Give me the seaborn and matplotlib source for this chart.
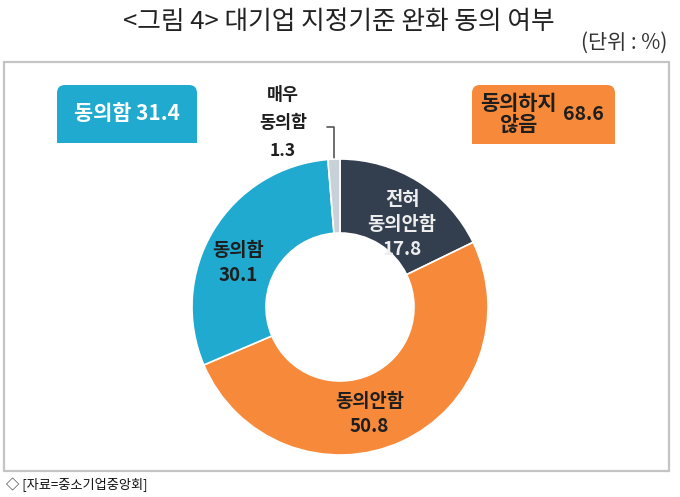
import numpy as np
import matplotlib
matplotlib.use("Agg")
import matplotlib.pyplot as plt
import seaborn as sns
from matplotlib.patches import FancyBboxPatch, Rectangle

sns.set_theme(style="white")
plt.rcParams['font.family'] = ['Noto Sans CJK KR', 'DejaVu Sans']

# data
labels = ["전혀\n동의안함", "동의안함", "동의함", "매우\n동의함"]
values = [17.8, 50.8, 30.1, 1.3]
colors = ["#333F4E", "#F68A3A", "#21AACF", "#C8D0D8"]
agree_total = 31.4
disagree_total = 68.6
disagree_label = ["동의하지", "않음"]

title = "<그림 4> 대기업 지정기준 완화 동의 여부"
unit = "(단위 : %)"
source = "◇ [자료=중소기업중앙회]"

W, H = 680, 497
fig = plt.figure(figsize=(W / 100, H / 100), dpi=100)
fig.patch.set_facecolor("white")

# background axes in pixel coordinates (y downward)
bg = fig.add_axes([0, 0, 1, 1])
bg.set_xlim(0, W)
bg.set_ylim(H, 0)
bg.axis("off")

bg.text(339, 22, title, ha="center", va="center", fontsize=18.5, color="#222222")
bg.text(667, 43, unit, ha="right", va="center", fontsize=15, color="#333333")
bg.text(6, 485, source, ha="left", va="center", fontsize=9.5, color="#111111")

# frame
bg.add_patch(Rectangle((4, 62), 665, 409, fill=False, edgecolor="#C4C4C4", linewidth=1.6))


def top_round_box(ax, x, y, w, h, color):
    r = 8
    ax.add_patch(FancyBboxPatch((x + r, y + r), w - 2 * r, h - 2 * r,
                                boxstyle=f"round,pad={r}", facecolor=color,
                                edgecolor="none"))
    ax.add_patch(Rectangle((x, y + h / 2), w, h / 2, facecolor=color, edgecolor="none"))


top_round_box(bg, 57, 85, 140, 58, colors[2])
bg.text(127, 114, f"동의함 {agree_total}", ha="center", va="center",
        fontsize=15, fontweight="bold", color="white")

top_round_box(bg, 472, 85, 143, 59, colors[1])
bg.text(518, 104, disagree_label[0], ha="center", va="center", fontsize=15,
        fontweight="bold", color="#1E1E1E")
bg.text(518, 124, disagree_label[1], ha="center", va="center", fontsize=15,
        fontweight="bold", color="#1E1E1E")
bg.text(583, 114, f"{disagree_total}", ha="center", va="center", fontsize=14,
        fontweight="bold", color="#1E1E1E")

# donut
cx, cy, R = 340, 307, 148
ax = fig.add_axes([(cx - R) / W, 1 - (cy + R) / H, 2 * R / W, 2 * R / H])
wedges, _ = ax.pie(values, colors=colors, startangle=90, counterclock=False,
                   radius=1.0, wedgeprops=dict(width=0.5, edgecolor="white", linewidth=1.2))
ax.set_xlim(-1, 1)
ax.set_ylim(-1, 1)
ax.set_aspect("equal")
ax.axis("off")

label_pos = [(0.42, 0.56), (0.20, -0.72), (-0.69, 0.30)]
label_col = ["#EEEEEE", "#1E1E1E", "#1E1E1E"]
for (lx, ly), lab, v, c in zip(label_pos, labels[:3], values[:3], label_col):
    ax.text(lx, ly, f"{lab}\n{v}", ha="center", va="center", fontsize=13.5,
            fontweight="bold", color=c, linespacing=1.4)

# callout for the small slice
bg.text(283, 123, f"{labels[3]}\n{values[3]}", ha="center", va="center",
        fontsize=12.5, fontweight="bold", color="#1E1E1E", linespacing=1.7)
bg.plot([327, 334, 334], [127, 127, 160], color="#555555", linewidth=1.2)

fig.savefig("out.png", dpi=100, facecolor="white")
